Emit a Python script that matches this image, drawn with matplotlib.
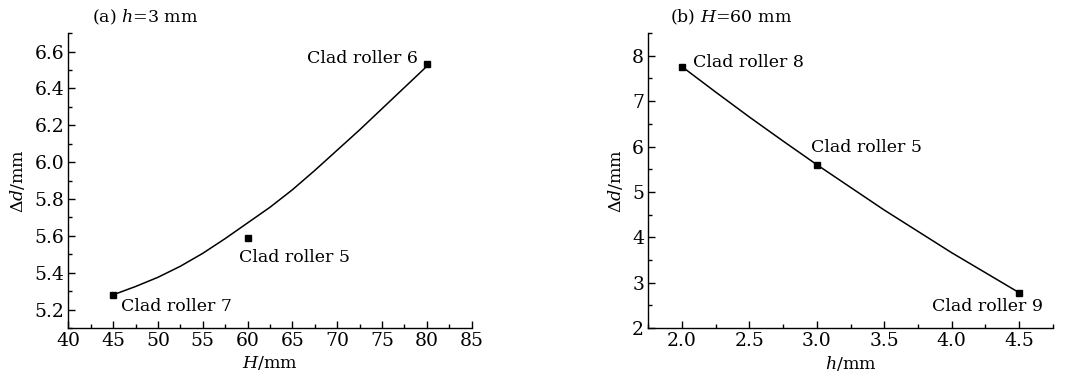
'''
Clad roller size effect: delta d vs H (h fixed) and vs h (H fixed)
'''
import matplotlib
matplotlib.use("Agg")
import matplotlib.pyplot as plt
from matplotlib.ticker import MultipleLocator

# (a) h = 3 mm
H_pts = [45, 60, 80]
dd_a = [5.28, 5.59, 6.53]
labels_a = ["Clad roller 7", "Clad roller 5", "Clad roller 6"]
# fitted curve
H_curve = [45, 47.5, 50, 52.5, 55, 57.5, 60, 62.5, 65, 67.5, 70, 72.5, 75, 77.5, 80]
dd_curve = [5.28, 5.325, 5.375, 5.435, 5.505, 5.585, 5.67, 5.755, 5.85, 5.955,
            6.065, 6.175, 6.29, 6.405, 6.52]

# (b) H = 60 mm
h_pts = [2.0, 3.0, 4.5]
dd_b = [7.76, 5.60, 2.78]
labels_b = ["Clad roller 8", "Clad roller 5", "Clad roller 9"]
h_curve = [2.0, 2.25, 2.5, 2.75, 3.0, 3.25, 3.5, 3.75, 4.0, 4.25, 4.5]
dd_curve_b = [7.76, 7.20, 6.65, 6.12, 5.60, 5.10, 4.60, 4.13, 3.66, 3.22, 2.78]

plt.rcParams['font.family'] = 'DejaVu Serif'
plt.rcParams['mathtext.fontset'] = 'dejavuserif'
plt.rcParams['font.size'] = 12.5

fig = plt.figure(figsize=(10.65, 3.83), dpi=100)
ax1 = fig.add_axes([0.0641, 0.1436, 0.3788, 0.770])
ax2 = fig.add_axes([0.6087, 0.1436, 0.3798, 0.770])


def style(ax):
    for s in ['top', 'right']:
        ax.spines[s].set_visible(False)
    for s in ['left', 'bottom']:
        ax.spines[s].set_linewidth(1.0)
    ax.tick_params(which='major', direction='in', length=5, width=1, pad=3,
                   labelsize=13.5)
    ax.tick_params(which='minor', direction='in', length=3, width=1)


# panel a
ax1.plot(H_curve, dd_curve, color='black', lw=1.1)
ax1.plot(H_pts, dd_a, 's', color='black', ms=4)
offs_a = [(8, -12, 'left'), (-9, -20, 'left'), (-9, 6, 'right')]
for x, y, t, (dx, dy, ha) in zip(H_pts, dd_a, labels_a, offs_a):
    ax1.annotate(t, (x, y), xytext=(dx, dy), textcoords='offset pixels',
                 ha=ha, va='center')
ax1.set_xlim(40, 85)
ax1.set_ylim(5.1, 6.7)
ax1.xaxis.set_major_locator(MultipleLocator(5))
ax1.xaxis.set_minor_locator(MultipleLocator(2.5))
ax1.yaxis.set_major_locator(MultipleLocator(0.2))
ax1.yaxis.set_minor_locator(MultipleLocator(0.1))
ax1.set_yticks([5.2, 5.4, 5.6, 5.8, 6.0, 6.2, 6.4, 6.6])
ax1.set_xlabel('$H$/mm', labelpad=3)
ax1.set_ylabel(r'$\Delta d$/mm', labelpad=5)
style(ax1)
fig.text(0.086, 0.955, '(a) $h$=3 mm', ha='left', va='center')

# panel b
ax2.plot(h_curve, dd_curve_b, color='black', lw=1.1)
ax2.plot(h_pts, dd_b, 's', color='black', ms=4)
offs_b = [(11, 4, 'left'), (-6, 17, 'left'), (24, -14, 'right')]
for x, y, t, (dx, dy, ha) in zip(h_pts, dd_b, labels_b, offs_b):
    ax2.annotate(t, (x, y), xytext=(dx, dy), textcoords='offset pixels',
                 ha=ha, va='center')
ax2.set_xlim(1.75, 4.75)
ax2.set_ylim(2, 8.5)
ax2.xaxis.set_major_locator(MultipleLocator(0.5))
ax2.xaxis.set_minor_locator(MultipleLocator(0.25))
ax2.yaxis.set_major_locator(MultipleLocator(1))
ax2.yaxis.set_minor_locator(MultipleLocator(0.5))
ax2.set_xticks([2.0, 2.5, 3.0, 3.5, 4.0, 4.5])
ax2.set_yticks([2, 3, 4, 5, 6, 7, 8])
ax2.set_xlabel('$h$/mm', labelpad=3)
ax2.set_ylabel(r'$\Delta d$/mm', labelpad=5)
style(ax2)
fig.text(0.629, 0.955, '(b) $H$=60 mm', ha='left', va='center')

fig.savefig('out.png', dpi=100)
